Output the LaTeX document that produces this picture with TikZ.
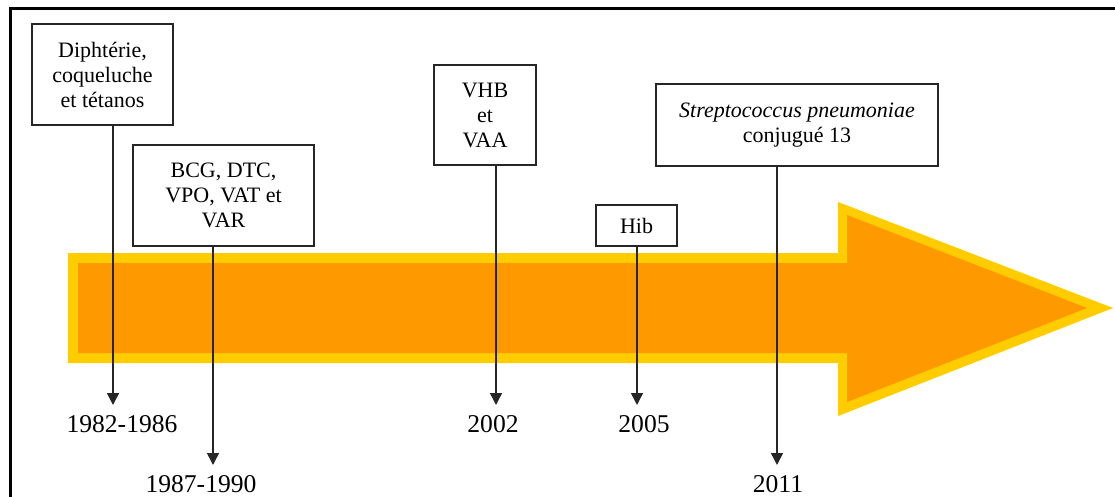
\documentclass[tikz,border=0pt]{standalone}
\usepackage{fontspec}
\setmainfont{Liberation Serif}
\usetikzlibrary{arrows.meta}
\definecolor{arrowout}{HTML}{FFCC00}
\definecolor{arrowin}{HTML}{FF9900}
\tikzset{
  box/.style={draw=black!85, line width=1.5pt, align=center, inner sep=0pt,
    font=\fontsize{22}{25}\selectfont},
  conn/.style={draw=black!85, line width=1.5pt, -{Triangle[length=12pt,width=12pt]}},
  year/.style={anchor=base, inner sep=0pt, font=\fontsize{25.6}{28}\selectfont},
}
\begin{document}
\begin{tikzpicture}[x=1pt,y=-1pt]
\useasboundingbox (0,0) rectangle (1115,497);
% frame
\draw[line width=3pt] (10,497) -- (10,9) -- (1115,9);
% big arrow
\fill[arrowout] (68,253) -- (838,253) -- (838,202) -- (1113,308) -- (838,416) -- (838,363) -- (68,363) -- cycle;
\fill[arrowin] (78,263) -- (847,263) -- (847,215) -- (1087,308) -- (847,402) -- (847,353) -- (78,353) -- cycle;
% boxes
\node[box, minimum width=141pt, minimum height=101pt] (b1) at (102.5,74.5) {Diphtérie,\\coqueluche\\et tétanos};
\node[box, minimum width=181pt, minimum height=101pt] (b2) at (223.5,195.5) {BCG, DTC,\\VPO, VAT et\\VAR};
\node[box, minimum width=102pt, minimum height=100pt] (b3) at (485,115) {VHB\\et\\VAA};
\node[box, minimum width=81pt, minimum height=41pt] (b4) at (636.5,225.5) {Hib};
\node[box, minimum width=282pt, minimum height=82pt] (b5) at (797,125) {\textit{Streptococcus pneumoniae}\\conjugué 13};
% tips
\coordinate (t1) at (113,405);
\coordinate (t2) at (213,465);
\coordinate (t3) at (496,405);
\coordinate (t4) at (637,405);
\coordinate (t5) at (777,465);
\draw[conn] (b1.south -| t1) -- (t1);
\draw[conn] (b2.south -| t2) -- (t2);
\draw[conn] (b3.south -| t3) -- (t3);
\draw[conn] (b4.south -| t4) -- (t4);
\draw[conn] (b5.south -| t5) -- (t5);
% years
\node[year] (y1) at (122,432) {1982-1986};
\node[year] (y2) at (201,492) {1987-1990};
\node[year] (y3) at (493,432) {2002};
\node[year] (y4) at (644,432) {2005};
\node[year] (y5) at (778,492) {2011};
\end{tikzpicture}
\end{document}
